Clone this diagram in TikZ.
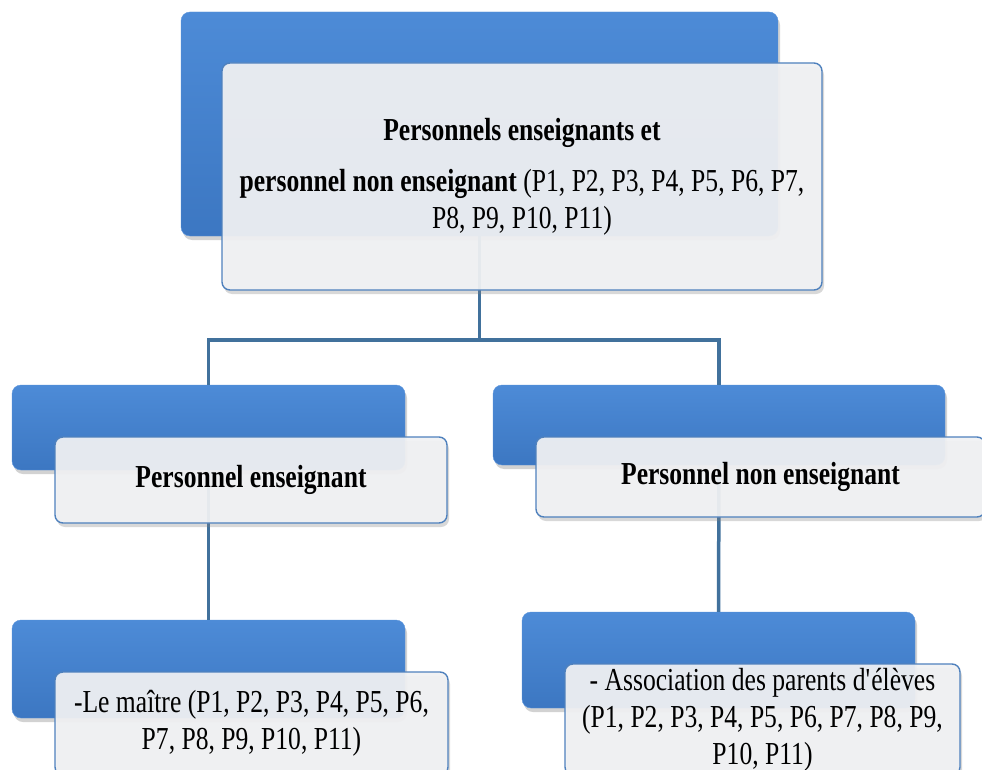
\documentclass[tikz,border=0pt]{standalone}
\usepackage{fontspec}
\setmainfont{Liberation Serif}[FakeStretch=0.8]
\usetikzlibrary{shadows}
\definecolor{bluetop}{HTML}{4D8BD7}
\definecolor{bluebot}{HTML}{3C77C2}
\definecolor{blueedge}{HTML}{5A94DC}
\definecolor{frontfill}{HTML}{F1F2F4}
\definecolor{frontedge}{HTML}{4F81BD}
\definecolor{linkblue}{HTML}{41719C}
\tikzset{
         backbox/.style=
          {
           rounded corners=9pt,inner sep=0pt,
           draw=blueedge,top color=bluetop,bottom color=bluebot,
           drop shadow={opacity=.35,shadow xshift=2pt,shadow yshift=-4pt}
          },
         frontbox/.style=
          {
           rounded corners=8pt,inner sep=0pt,align=center,
           draw=frontedge,line width=1.4pt,fill=frontfill,
           fill opacity=.93,text opacity=1,
           drop shadow={opacity=.3,shadow xshift=2pt,shadow yshift=-4pt}
          },
         link/.style={draw=linkblue,line width=3.5pt}
        }

\begin{document}
\begin{tikzpicture}[x=1pt,y=-1pt,font=\fontsize{32}{37}\selectfont]

\useasboundingbox[fill=white](0,0)rectangle(982,770);
%blue back boxes
\node[backbox,minimum width=597pt,minimum height=224pt](topback)at(479.5,124){};
\node[backbox,minimum width=393pt,minimum height=85pt](ensback)at(208.5,427.5){};
\node[backbox,minimum width=452pt,minimum height=80pt](nonback)at(719,425){};
\node[backbox,minimum width=393pt,minimum height=98pt](maitreback)at(208.5,669){};
\node[backbox,minimum width=393pt,minimum height=96pt](assocback)at(718.5,660){};
%links
\coordinate(split)at(479.5,340);
\draw[link](topback.south)--(split)-|(ensback.north);
\draw[link](split)-|(nonback.north);
\draw[link](ensback.south)--(maitreback.north);
\draw[link](nonback.south)--(assocback.north);
%front boxes
\node[frontbox,minimum width=600pt,minimum height=227pt](topfront)at(522,176.5)
 {\textbf{Personnels enseignants et}\\[14pt]
  \textbf{personnel non enseignant} (P1, P2, P3, P4, P5, P6, P7,\\
  P8, P9, P10, P11)};
\node[frontbox,minimum width=392pt,minimum height=86pt](ensfront)at(251,480)
 {\textbf{Personnel enseignant}};
\node[frontbox,minimum width=449pt,minimum height=80pt](nonfront)at(760.5,477)
 {\textbf{Personnel non enseignant}};
\node[frontbox,minimum width=393pt,minimum height=103pt](maitrefront)at(251.5,723.5)
 {-Le maître (P1, P2, P3, P4, P5, P6,\\P7, P8, P9, P10, P11)};
\node[frontbox,minimum width=395pt,minimum height=111pt](assocfront)at(762.5,719.5)
 {- Association des parents d\textquotesingle élèves\\(P1, P2, P3, P4, P5, P6, P7, P8, P9,\\P10, P11)};

\end{tikzpicture}
\end{document}
